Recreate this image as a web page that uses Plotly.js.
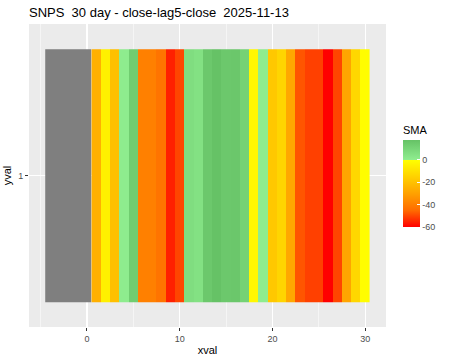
<!DOCTYPE html>
<html>
<head>
<meta charset="utf-8">
<script src="https://cdn.plot.ly/plotly-3.0.1.min.js"></script>
<style>html,body{margin:0;padding:0;background:#fff}#chart{width:450px;height:360px}</style>
</head>
<body>
<div id="chart"></div>
<script>
// Data
const naXval = [-4, -3, -2, -1, 0];
const xval = [1,2,3,4,5,6,7,8,9,10,11,12,13,14,15,16,17,18,19,20,21,22,23,24,25,26,27,28,29,30];
const sma = [-25.3,-4.9,-20.3,1.0,13.7,-39.4,-39.4,-42.7,-55.6,-50.4,6.9,5.5,15.4,18.0,15.4,15.8,11.6,-2.6,0.8,-17.8,-13.7,-27.8,-48.2,-51.1,-51.1,-60.0,-50.4,-28.8,-13.0,-0.5];
const yval = [1];
const colorTicks = [0, -20, -40, -60];

const zmin = -60, zmax = 18;
const p = v => (v - zmin) / (zmax - zmin);
const colorscale = [
  [0, '#FF0000'],
  [p(-45), '#FF6C00'],
  [p(-30), '#FFA100'],
  [p(-15), '#FFD100'],
  [p(0), '#FFFF00'],
  [p(0), '#90EE90'],
  [1, '#66C266']
];

const font = 'Liberation Sans, Arial, Helvetica, sans-serif';

const traces = [
  {
    type: 'heatmap',
    x: naXval,
    y: yval,
    z: [naXval.map(() => 1)],
    colorscale: [[0, '#7F7F7F'], [1, '#7F7F7F']],
    showscale: false,
    hoverinfo: 'skip'
  },
  {
    type: 'heatmap',
    x: xval,
    y: yval,
    z: [sma],
    zmin: zmin,
    zmax: zmax,
    colorscale: colorscale,
    hoverinfo: 'skip',
    colorbar: {
      title: {text: 'SMA', side: 'top', font: {family: font, size: 11, color: '#000'}},
      tickvals: colorTicks,
      ticktext: colorTicks.map(String),
      tickfont: {family: font, size: 9, color: '#4D4D4D'},
      ticks: 'inside',
      ticklen: 3,
      tickcolor: '#FFFFFF',
      tickwidth: 1,
      thickness: 17,
      thicknessmode: 'pixels',
      len: 104,
      lenmode: 'pixels',
      x: (403 - 29) / 358,
      xanchor: 'left',
      xpad: 0,
      y: (327 - 226.7) / 303,
      yanchor: 'bottom',
      ypad: 0,
      outlinewidth: 0,
      borderwidth: 0
    }
  }
];

const layout = {
  width: 450,
  height: 360,
  margin: {l: 29, r: 63, t: 24, b: 33, pad: 0},
  paper_bgcolor: '#FFFFFF',
  plot_bgcolor: '#EBEBEB',
  font: {family: font, color: '#000'},
  title: {
    text: 'SNPS  30 day - close-lag5-close  2025-11-13',
    font: {family: font, size: 13, color: '#000'},
    x: 0, xref: 'paper', xanchor: 'left',
    y: 1 - 12 / 360, yref: 'container', yanchor: 'middle'
  },
  xaxis: {
    range: [-6.25, 32.25],
    tick0: 0,
    dtick: 10,
    ticks: 'outside',
    ticklen: 3,
    tickcolor: '#333333',
    tickfont: {family: font, size: 9, color: '#4D4D4D'},
    showgrid: true,
    gridcolor: '#FFFFFF',
    gridwidth: 1.1,
    minor: {tick0: 0, dtick: 5, showgrid: true, gridcolor: '#FFFFFF', gridwidth: 0.5, ticks: ''},
    zeroline: false,
    showline: false,
    title: {text: 'xval', font: {family: font, size: 11, color: '#000'}, standoff: 3}
  },
  yaxis: {
    range: [0.4, 1.6],
    tickmode: 'array',
    tickvals: yval,
    ticktext: yval.map(String),
    ticks: 'outside',
    ticklen: 3,
    tickcolor: '#333333',
    tickfont: {family: font, size: 9, color: '#4D4D4D'},
    showgrid: true,
    gridcolor: '#FFFFFF',
    gridwidth: 1.1,
    zeroline: false,
    showline: false,
    title: {text: 'yval', font: {family: font, size: 11, color: '#000'}, standoff: 4}
  }
};

Plotly.newPlot('chart', traces, layout, {displayModeBar: false, staticPlot: true});
</script>
</body>
</html>
